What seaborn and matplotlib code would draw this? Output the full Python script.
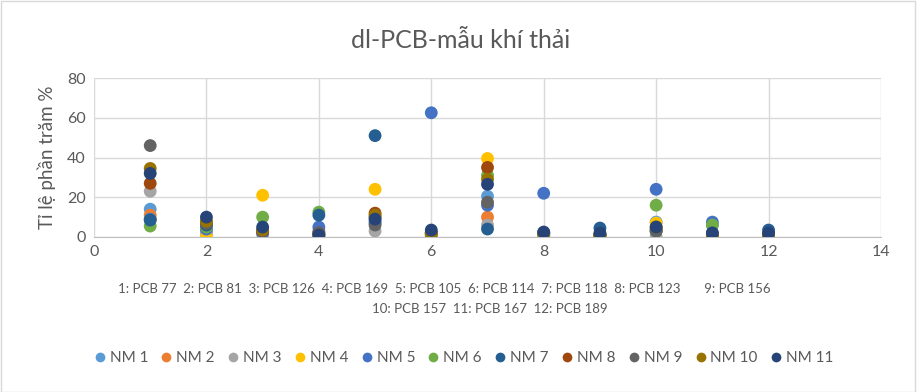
import pandas as pd
import matplotlib.pyplot as plt
import seaborn as sns
from matplotlib.lines import Line2D
from matplotlib.patches import Rectangle

# data (percent per congener, x = congener number)
congeners = [1, 2, 3, 4, 5, 6, 7, 8, 9, 10, 11, 12]
series_names = ["NM 1", "NM 2", "NM 3", "NM 4", "NM 5", "NM 6",
                "NM 7", "NM 8", "NM 9", "NM 10", "NM 11"]
nm1 = [14, 3, 2, 3, 8, 2, 20.5, 2, 1, 7.5, 6, 1]
nm2 = [11, 2, 1.5, 1, 10, 1, 10, 1, 1, 3, 1, 1]
nm3 = [23, 2, 2, 1, 3, 1, 6, 1, 0.5, 0, 1, 0.5]
nm4 = [9, 0, 21, 0, 24, 1, 39.5, 0, 0, 7, 0, 0]
nm5 = [9, 4, 2, 5, 7, 62.5, 16, 22, 1, 24, 7.5, 1]
nm6 = [5.5, 5, 10, 12.5, 10, 0, 31, 1, 1, 16, 6, 1]
nm7 = [8.5, 6, 3, 11, 51, 2, 4, 2, 4.5, 3, 2, 3.5]
nm8 = [27, 7, 3, 2, 12, 2, 35, 2, 1, 4, 1, 1]
nm9 = [46, 7, 3, 2, 6, 2, 17.5, 2, 1, 3, 1, 1]
nm10 = [34.5, 8, 3.5, 1, 11, 2, 29, 2, 1, 5, 1, 1]
nm11 = [32, 10, 5, 1, 9, 3.5, 26.5, 2.5, 2, 5, 2, 2]
all_values = [nm1, nm2, nm3, nm4, nm5, nm6, nm7, nm8, nm9, nm10, nm11]

colors = ["#5B9BD5", "#ED7D31", "#A5A5A5", "#FFC000", "#4472C4", "#70AD47",
          "#255E91", "#9E480E", "#636363", "#997300", "#264478"]

line1 = "1: PCB 77  2: PCB 81  3: PCB 126  4: PCB 169  5: PCB 105  6: PCB 114  7: PCB 118  8: PCB 123       9: PCB 156"
line2 = "10: PCB 157  11: PCB 167  12: PCB 189"

rows = []
for name, vals in zip(series_names, all_values):
    for x, v in zip(congeners, vals):
        rows.append({"x": x, "y": v, "series": name})
df = pd.DataFrame(rows)

sns.set_style("white")
plt.rcParams["font.family"] = ["Lato", "DejaVu Sans"]
text_color = "#595959"

fig = plt.figure(figsize=(9.17, 3.92), dpi=100)
ax = fig.add_axes([94 / 917, 1 - 237 / 392, (881 - 94) / 917, (237 - 78) / 392])

sns.scatterplot(data=df, x="x", y="y", hue="series", palette=colors,
                s=85, linewidth=0, alpha=1, legend=False, ax=ax, zorder=3)

ax.set_xlim(0, 14)
ax.set_ylim(0, 80)
ax.set_xticks(range(0, 15, 2))
ax.set_yticks(range(0, 81, 20))
ax.grid(True, color="#D9D9D9", linewidth=1)
ax.set_axisbelow(True)
for side in ["top", "right", "left"]:
    ax.spines[side].set_visible(False)
ax.spines["bottom"].set_color("#BFBFBF")
ax.tick_params(length=0, labelsize=11.5, colors=text_color, pad=6)
ax.set_xlabel("")
ax.set_ylabel("Tỉ lệ phần trăm %", fontsize=13.5, color=text_color, labelpad=8)

fig.text(461 / 917, 1 - 40 / 392, "dl-PCB-mẫu khí thải", ha="center", va="center",
         fontsize=18, color=text_color)
fig.text(444 / 917, 1 - 289 / 392, line1, ha="center", va="center",
         fontsize=9.5, color=text_color)
fig.text(490 / 917, 1 - 309 / 392, line2, ha="center", va="center",
         fontsize=9.5, color=text_color)

handles = [Line2D([0], [0], marker="o", linestyle="", markersize=7,
                  markerfacecolor=c, markeredgewidth=0) for c in colors]
fig.legend(handles, series_names, loc="center", bbox_to_anchor=(462 / 917, 1 - 358 / 392),
           ncol=11, frameon=False, fontsize=11, handletextpad=0.05,
           columnspacing=0.6, handlelength=1.2, labelcolor=text_color)

fig.add_artist(Rectangle((0.001, 0.001), 0.997, 0.997, transform=fig.transFigure,
                         fill=False, edgecolor="#D9D9D9", linewidth=1))

fig.savefig("out.png", dpi=100)
